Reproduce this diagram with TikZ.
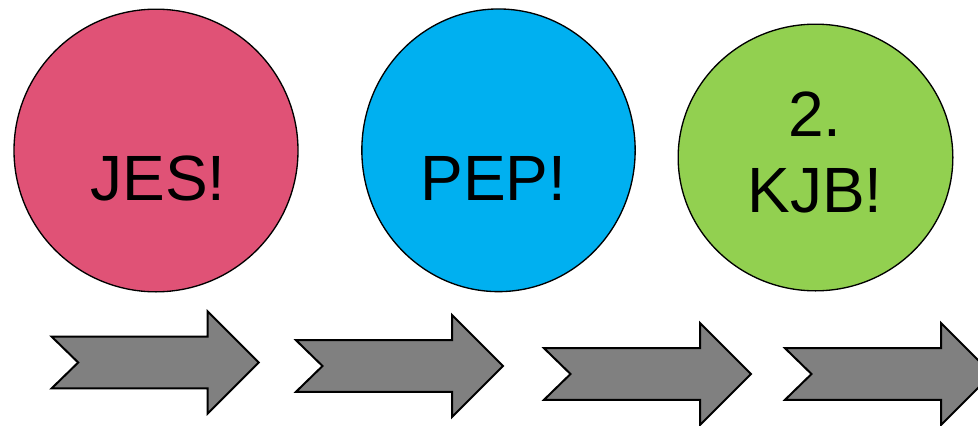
\documentclass[tikz,border=0pt]{standalone}
\usepackage{fontspec}
\setmainfont{Liberation Sans}
\usepackage{tikz}
\usetikzlibrary{shapes.geometric}
\definecolor{jespink}{HTML}{E05276}
\definecolor{pepblue}{HTML}{00B0F0}
\definecolor{kjbgreen}{HTML}{92D050}

\begin{document}
\begin{tikzpicture}[x=0.75pt,y=-0.75pt,
    bubble/.style={ellipse,draw,line width=1pt,inner sep=0pt},
    word/.style={anchor=base,font=\fontsize{48}{57}\selectfont,align=center,inner sep=0pt},
    blockarrow/.style={draw,line width=1.5pt,fill=gray,line join=miter}]
  \useasboundingbox (0,0) rectangle (978,425);
  % the three bubbles
  \node [bubble,fill=jespink,minimum width=213pt,minimum height=212pt] (jes) at (156,150.5) {};
  \node [bubble,fill=pepblue,minimum width=205pt,minimum height=212pt] (pep) at (498.5,150.3) {};
  \node [bubble,fill=kjbgreen,minimum width=206pt,minimum height=200pt] (kjb) at (815.5,157.5) {};
  \node [word] (jestext) at (158,200) {JES!};
  \node [word] (peptext) at (493.5,200) {PEP!};
  \node [word] (kjbtext) at (815,212) {2.\\KJB!};
  % arrows underneath
  \foreach \tx/\ty in {51.7/362.5, 296/366, 544/374, 785/374}
    \draw [blockarrow] (\tx,\ty-25.8) -- ++(156,0) -- ++(0,-25.2) -- ++(51,51)
      -- ++(-51,51) -- ++(0,-25.2) -- ++(-156,0) -- ++(26.5,-25.8) -- cycle;
\end{tikzpicture}
\end{document}
